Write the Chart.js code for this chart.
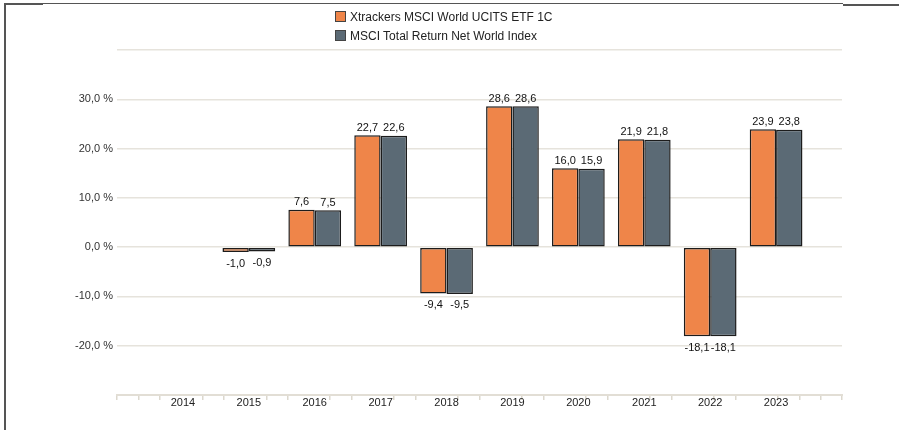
<!DOCTYPE html>
<html>
<head>
<meta charset="utf-8">
<script src="https://cdn.jsdelivr.net/npm/chart.js@4.4.0/dist/chart.umd.min.js"></script>
<style>
  html, body { margin: 0; padding: 0; background: #fff; }
  #wrap { position: relative; width: 899px; height: 430px; overflow: hidden; font-family: "Liberation Sans", Arial, sans-serif; }
  #c { position: absolute; left: 0; top: 0; }
  .frameL { position: absolute; left: 4px; top: 3px; width: 2px; height: 427px; background: #555; }
  .frameT { position: absolute; left: 5px; top: 3px; width: 838px; height: 1px; background: #555; }
  .frameTL { position: absolute; left: 5px; top: 3px; width: 38px; height: 2px; background: #555; }
  .frameTR { position: absolute; left: 843px; top: 4px; width: 56px; height: 2px; background: #555; }
  #legend { position: absolute; left: 335px; top: 7px; font-size: 12px; color: #222; }
  .li { display: flex; align-items: center; height: 19px; }
  .bx { width: 9px; height: 9px; border: 1px solid #444; margin-right: 4px; }
</style>
</head>
<body>
<div id="wrap">
  <canvas id="c" width="899" height="430"></canvas>
  <div class="frameL"></div><div class="frameT"></div><div class="frameTL"></div><div class="frameTR"></div>
  <div id="legend"></div>
</div>
<script>
const categories = ["", "2014", "2015", "2016", "2017", "2018", "2019", "2020", "2021", "2022", "2023", ""];
const etfValues = [null, null, -1.0, 7.6, 22.7, -9.4, 28.6, 16.0, 21.9, -18.1, 23.9, null];
const indexValues = [null, null, -0.9, 7.5, 22.6, -9.5, 28.6, 15.9, 21.8, -18.1, 23.8, null];
const seriesNames = ["Xtrackers MSCI World UCITS ETF 1C", "MSCI Total Return Net World Index"];
const seriesColors = ["#ef8549", "#5b6a75"];
const yTickValues = [-20, -10, 0, 10, 20, 30];

const fmt = v => v.toFixed(1).replace('.', ',');

// HTML legend
const leg = document.getElementById('legend');
seriesNames.forEach((n, i) => {
  const d = document.createElement('div'); d.className = 'li';
  const b = document.createElement('span'); b.className = 'bx'; b.style.background = seriesColors[i];
  const t = document.createElement('span'); t.textContent = n;
  d.appendChild(b); d.appendChild(t); leg.appendChild(d);
});

const valueLabels = {
  id: 'valueLabels',
  afterDatasetsDraw(chart) {
    const ctx = chart.ctx;
    ctx.save();
    ctx.font = '11px "Liberation Sans", Arial, sans-serif';
    ctx.fillStyle = '#111';
    ctx.textAlign = 'center';
    chart.data.datasets.forEach((ds, di) => {
      const meta = chart.getDatasetMeta(di);
      meta.data.forEach((el, i) => {
        const v = ds.data[i];
        if (v === null || v === undefined) return;
        if (v >= 0) { ctx.textBaseline = 'bottom'; ctx.fillText(fmt(v), el.x, el.y - 2); }
        else { ctx.textBaseline = 'top'; ctx.fillText(fmt(v), el.x, el.y + 6); }
      });
    });
    ctx.restore();
  }
};

new Chart(document.getElementById('c'), {
  type: 'bar',
  data: {
    labels: categories,
    datasets: [
      { label: seriesNames[0], data: etfValues, backgroundColor: seriesColors[0], borderColor: '#1c1c1c', borderWidth: 1.5, borderSkipped: false, categoryPercentage: 0.8, barPercentage: 1.0, xAxisID: 'x' },
      { label: seriesNames[1], data: indexValues, backgroundColor: seriesColors[1], borderColor: '#1c1c1c', borderWidth: 1.5, borderSkipped: false, categoryPercentage: 0.8, barPercentage: 1.0, xAxisID: 'x' }
    ]
  },
  options: {
    responsive: false,
    animation: false,
    devicePixelRatio: 1,
    layout: { padding: { top: 50, right: 57, bottom: 0, left: 0 } },
    plugins: { legend: { display: false }, tooltip: { enabled: false } },
    scales: {
      x: {
        type: 'category',
        position: 'bottom',
        weight: 1,
        offset: false,
        grid: { display: false },
        border: { display: true, color: '#e2ded5', width: 2 },
        ticks: { color: '#222', font: { size: 11, family: '"Liberation Sans", Arial, sans-serif' }, padding: -7, maxRotation: 0, autoSkip: false },
        afterFit: s => { s.height = 35; }
      },
      xm: {
        type: 'linear',
        position: 'bottom',
        weight: 0,
        min: 0, max: 33,
        grid: {
          drawOnChartArea: false, drawTicks: true, tickLength: 5, lineWidth: 1.5,
          color: c => (c.tick && c.tick.value % 3 === 0 && c.tick.value !== 0 && c.tick.value !== 33) ? 'rgba(0,0,0,0)' : '#dcd8ce'
        },
        border: { display: false },
        ticks: { display: false, stepSize: 1, maxTicksLimit: 100, autoSkip: false },
        afterFit: s => { s.height = 0; }
      },
      y: {
        min: -30, max: 40,
        afterBuildTicks: s => { s.ticks = [-30, -20, -10, 0, 10, 20, 30, 40].map(v => ({ value: v })); },
        grid: { color: '#e6e3dc', lineWidth: 1.5, drawTicks: false },
        border: { display: false },
        ticks: {
          padding: 4, color: '#333',
          font: { size: 11, family: '"Liberation Sans", Arial, sans-serif' },
          callback: v => yTickValues.includes(v) ? fmt(v) + ' %' : ''
        },
        afterFit: s => { s.width = 117; }
      }
    }
  },
  plugins: [valueLabels]
});
</script>
</body>
</html>
